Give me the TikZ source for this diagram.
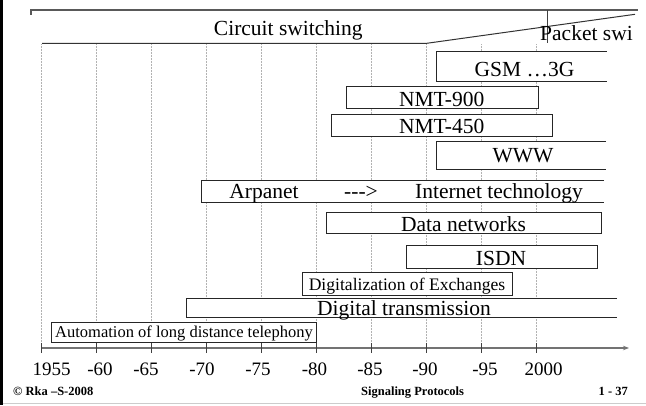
\documentclass[tikz,border=0pt]{standalone}
\usepackage{fontspec}
\setmainfont{Liberation Serif}
\usetikzlibrary{arrows.meta}

\begin{document}
\begin{tikzpicture}[x=1pt,y=-1pt,
  grid/.style={draw=black!30, line width=0.5pt, densely dotted},
  barline/.style={draw=black!85, line width=0.9pt},
  bar/.style={barline, fill=white},
  hdr/.style={draw=black!65, line width=1.4pt},
  big/.style={font=\fontsize{21.5}{24}\selectfont, anchor=base, inner sep=0pt},
  mid/.style={font=\fontsize{17.6}{20}\selectfont, anchor=base, inner sep=0pt},
  small/.style={font=\fontsize{16.5}{19}\selectfont, anchor=base, inner sep=0pt},
  yr/.style={font=\fontsize{19}{22}\selectfont, anchor=base, inner sep=0pt},
  foot/.style={font=\fontsize{12.5}{14}\selectfont\bfseries, anchor=base, inner sep=0pt},
  axisline/.style={draw=black!55, line width=1.1pt},
]
\useasboundingbox (0,0) rectangle (646,405);

% frame edges
\draw[line width=3pt, black] (1.5,0) -- (1.5,405);
\draw[draw=black!20, line width=0.8pt] (3,403.5) -- (646,403.5);

% vertical grid at every five years
\foreach \i in {0,...,9}
  \draw[grid] ({41.6+55*\i},44) -- ({41.6+55*\i},348);

% header: circuit switching / packet switching
\draw[hdr] (31,14.5) -- (31,10) -- (638,10);
\draw[draw=black!75, line width=0.8pt] (547,10) -- (547,43.3);
\draw[draw=black!80, line width=1pt] (42,43.3) -- (426.7,43.3) -- (635,14.3);
\node[big] (circ) at (288.3,35) {Circuit switching};
\node[big, anchor=base west] (pack) at (540,40.7) {Packet swi};

% GSM (open to the right)
\fill[white] (436.7,51.7) rectangle (606.7,81.7);
\draw[barline] (606.7,51.7) -- (436.7,51.7) -- (436.7,81.7) -- (606.7,81.7);
\node[big] (gsm) at (524.5,76) {GSM \ldots3G};

% NMT
\draw[bar] (346.7,86.7) rectangle (538.3,108.3);
\node[big] (nmt9) at (441.7,106) {NMT-900};
\draw[bar] (331.7,114.3) rectangle (552.3,136.7);
\node[big] (nmt4) at (441.7,133.3) {NMT-450};

% WWW (open to the right)
\fill[white] (436.7,141.7) rectangle (606,169);
\draw[barline] (606,141.7) -- (436.7,141.7) -- (436.7,169) -- (606,169);
\node[big] (www) at (523,162.7) {WWW};

% Arpanet -> Internet (open to the right)
\fill[white] (201,180) rectangle (604,202);
\draw[barline] (604,180) -- (201,180) -- (201,202) -- (604,202);
\node[big] (arpa) at (264,198) {Arpanet};
\node[big] (arrow) at (361,198) {-{}-{}->};
\node[big] (inet) at (499,198) {Internet technology};

% data networks and ISDN
\draw[bar] (326,212) rectangle (601.7,233.3);
\node[big] (data) at (463.5,231) {Data networks};
\draw[bar] (406.6,245) rectangle (597,268.5);
\node[big] (isdn) at (501,265) {ISDN};

% digitalization of exchanges
\draw[bar] (302,272.5) rectangle (512,295);
\node[mid] (digx) at (407,290) {Digitalization of Exchanges};

% digital transmission (open to the right)
\fill[white] (186,298.3) rectangle (617,317);
\draw[barline] (617,298.3) -- (186,298.3) -- (186,317) -- (617,317);
\node[big] (digt) at (404,315) {Digital transmission};

% automation of long distance telephony
\draw[bar] (51,322) rectangle (316.6,342);
\node[small] (auto) at (184,337.5) {Automation of long distance telephony};

% time axis
\coordinate (ax0) at (41.6,348);
\coordinate (ax1) at (629,348);
\draw[axisline, -{Stealth[length=6pt,width=4.5pt]}] (ax0) -- (ax1);
\foreach \i in {0,...,9}
  \draw[draw=black!75, line width=0.8pt] ({41.6+55*\i},343) -- ({41.6+55*\i},353);

\node[yr] (y55) at (51.5,375) {1955};
\node[yr] (y60) at (100,375) {-60};
\node[yr] (y65) at (146,375) {-65};
\node[yr] (y70) at (202,375) {-70};
\node[yr] (y75) at (258,375) {-75};
\node[yr] (y80) at (314.5,375) {-80};
\node[yr] (y85) at (370,375) {-85};
\node[yr] (y90) at (425,375) {-90};
\node[yr] (y95) at (485,375) {-95};
\node[yr] (y00) at (543.5,375) {2000};

% footer
\node[foot, anchor=base west] (fl) at (13,395) {© Rka –S-2008};
\node[foot] (fc) at (412.6,395) {Signaling Protocols};
\node[foot, anchor=base east] (fr) at (628,395) {1 - 37};
\end{tikzpicture}
\end{document}
